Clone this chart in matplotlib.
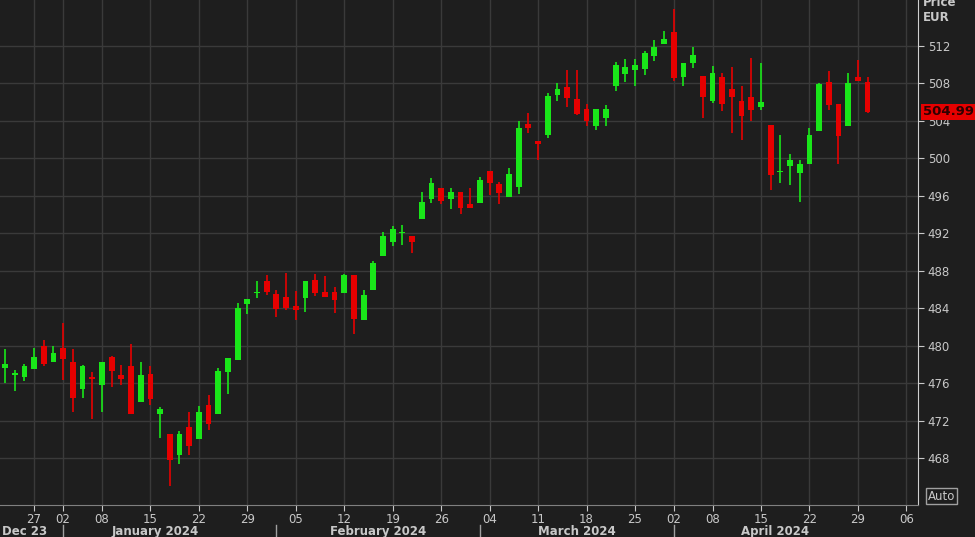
import matplotlib
matplotlib.use("Agg")
import matplotlib.pyplot as plt
import numpy as np

dates = ["Dec21","Dec22","Dec26","Dec27","Dec28","Dec29",
 "Jan02","Jan03","Jan04","Jan05","Jan08","Jan09","Jan10","Jan11","Jan12","Jan15","Jan16","Jan17","Jan18","Jan19",
 "Jan22","Jan23","Jan24","Jan25","Jan26","Jan29","Jan30","Jan31",
 "Feb01","Feb02","Feb05","Feb06","Feb07","Feb08","Feb09","Feb12","Feb13","Feb14","Feb15","Feb16","Feb19","Feb20",
 "Feb21","Feb22","Feb23","Feb26","Feb27","Feb28","Feb29",
 "Mar01","Mar04","Mar05","Mar06","Mar07","Mar08","Mar11","Mar12","Mar13","Mar14","Mar15","Mar18","Mar19","Mar20",
 "Mar21","Mar22","Mar25","Mar26","Mar27","Mar28",
 "Apr02","Apr03","Apr04","Apr05","Apr08","Apr09","Apr10","Apr11","Apr12","Apr15","Apr16","Apr17","Apr18","Apr19",
 "Apr22","Apr23","Apr24","Apr25","Apr26","Apr29","Apr30"]
opens = [477.6,476.9,476.7,477.5,480.0,478.3,
 479.8,478.3,475.4,476.7,475.8,478.8,476.9,477.8,474.0,477.0,472.7,470.6,468.3,471.3,
 470.0,473.7,472.7,477.2,478.5,484.5,485.6,486.9,
 485.5,485.2,484.2,485.1,487.0,485.7,485.7,485.6,487.5,482.7,485.9,489.6,491.1,492.0,
 491.7,493.5,495.7,496.8,495.7,496.4,495.1,
 495.2,498.7,497.3,495.9,496.9,503.7,501.9,502.5,506.8,507.6,506.3,505.3,503.4,504.3,
 507.7,509.0,509.4,509.5,510.9,512.2,
 513.5,508.7,510.2,508.8,506.1,508.7,507.4,506.1,506.5,505.5,503.6,498.5,499.2,498.4,
 499.4,502.9,508.1,505.8,503.5,508.7,508.1]
highs = [479.6,477.4,478.1,479.8,480.6,480.0,
 482.4,479.6,477.9,477.2,478.3,478.9,477.9,480.2,478.3,477.8,473.5,470.6,470.9,472.9,
 473.6,474.7,477.6,478.7,484.6,485.0,486.9,487.5,
 486.0,487.8,485.8,486.9,487.7,487.4,486.3,487.7,487.5,486.0,489.0,492.1,492.8,492.9,
 491.7,496.4,497.9,496.8,496.8,496.4,496.8,
 498.0,498.7,497.5,499.0,504.0,504.8,501.9,507.0,508.0,509.4,509.4,505.8,505.3,505.7,
 510.3,510.6,510.6,511.5,512.6,513.6,
 515.9,510.2,511.9,508.8,509.9,509.1,509.7,507.7,510.7,510.2,503.6,502.5,500.5,499.8,
 503.2,508.0,509.3,505.8,509.1,510.5,508.7]
lows = [476.0,475.2,476.2,477.5,477.8,478.3,
 476.3,472.9,474.4,472.2,472.9,475.6,475.8,472.7,474.0,473.7,470.2,465.0,467.4,468.3,
 470.0,471.0,472.7,474.9,478.5,483.4,485.1,485.4,
 483.1,483.8,482.7,483.6,485.3,485.2,483.5,485.6,481.3,482.7,485.9,489.6,490.6,490.8,
 489.9,493.5,495.2,495.1,494.6,494.1,494.7,
 495.2,496.1,495.1,495.9,496.2,502.7,499.8,502.2,506.1,505.5,504.6,503.4,503.0,503.4,
 507.2,508.2,507.7,508.9,510.4,512.2,
 508.3,507.7,509.6,504.3,505.9,505.0,502.7,502.0,504.0,505.2,496.6,497.4,497.2,495.3,
 499.4,502.9,505.2,499.4,503.5,508.3,504.8]
closes = [478.0,477.0,477.8,478.8,478.0,479.2,
 478.6,474.4,477.8,476.4,478.3,477.3,476.4,472.7,476.9,474.3,473.2,467.8,470.6,469.3,
 472.9,471.6,477.3,478.7,484.0,485.0,485.7,485.7,
 483.9,484.0,483.8,486.9,485.6,485.2,484.9,487.5,482.8,485.4,488.8,491.7,492.5,492.1,
 491.1,495.3,497.4,495.4,496.4,494.7,494.7,
 497.7,497.4,496.3,498.3,503.2,503.2,501.5,506.7,507.4,506.4,504.7,504.0,505.3,505.3,
 510.0,509.8,510.0,511.2,511.9,512.7,
 508.6,510.2,511.0,506.6,509.1,505.8,506.6,504.5,505.2,506.0,498.2,498.7,499.8,499.4,
 502.5,507.9,505.7,502.4,508.0,508.3,504.99]

tick_pos = [3,6,10,15,20,25,30,35,40,45,50,55,60,65,69,73,78,83,88,93]
tick_labels = ["27","02","08","15","22","29","05","12","19","26","04","11","18","25","02","08","15","22","29","06"]
month_labels = ["Dec 23","January 2024","February 2024","March 2024","April 2024"]
month_centers = [2.0,15.5,38.5,59.0,79.5]
month_bounds = [6,28,49,69]
yticks = list(range(468,513,4))
last_price = closes[-1]

BG = "#1e1e1e"
GREEN = "#19e619"
RED = "#e60000"
TXT = "#c8c8c8"
GRID = "#3a3a3a"

fig = plt.figure(figsize=(9.75,5.37), dpi=100, facecolor=BG)
ax = fig.add_axes([0.0, 0.0596, 0.9415, 0.9404], facecolor=BG)

x = np.arange(len(opens))
o = np.array(opens); h = np.array(highs); l = np.array(lows); c = np.array(closes)
up = c >= o
cols = np.where(up, GREEN, RED)
ax.vlines(x, l, h, colors=cols, linewidth=1.2, zorder=3)
bot = np.minimum(o, c)
ht = np.maximum(np.abs(c - o), 0.18)
ax.bar(x, ht, bottom=bot, width=0.6, color=cols, edgecolor=cols, linewidth=0, zorder=4)

ax.set_xlim(-0.52, 94.2)
ax.set_ylim(463.0, 516.9)
ax.set_xticks(tick_pos)
ax.set_xticklabels(tick_labels)
ax.set_yticks(yticks)
ax.yaxis.tick_right()
ax.grid(True, color=GRID, linewidth=1)
ax.set_axisbelow(True)
for s in ["top","left"]:
    ax.spines[s].set_visible(False)
ax.spines["right"].set_color("#d0d0d0")
ax.spines["bottom"].set_color("#808080")
ax.tick_params(axis="y", colors=TXT, labelsize=8.5, length=4, pad=3)
ax.tick_params(axis="x", colors=TXT, labelsize=8.5, length=4, pad=2)

for lbl, cx in zip(month_labels, month_centers):
    ax.text(cx, -0.052, lbl, transform=ax.get_xaxis_transform(), ha="center", va="center",
            color=TXT, fontsize=8.5, fontweight="bold", clip_on=False)
for b in month_bounds:
    ax.plot([b, b], [-0.04, -0.07], transform=ax.get_xaxis_transform(), color="#a0a0a0",
            linewidth=1, clip_on=False)

ax.text(1.005, last_price, f"{last_price:.2f}", transform=ax.get_yaxis_transform(), ha="left", va="center",
        fontsize=9.5, fontweight="bold", color="#300000",
        bbox=dict(boxstyle="square,pad=0.12", facecolor=RED, edgecolor="none"), clip_on=False, zorder=10)
fig.text(0.947, 0.995, "Price", color=TXT, fontsize=8.5, fontweight="bold", ha="left", va="center")
fig.text(0.947, 0.967, "EUR", color=TXT, fontsize=8.5, fontweight="bold", ha="left", va="center")
fig.text(0.9515, 0.076, "Auto", color=TXT, fontsize=8.5, ha="left", va="center",
         bbox=dict(boxstyle="square,pad=0.15", facecolor=BG, edgecolor="#a0a0a0"))

fig.savefig("out.png", dpi=100, facecolor=BG)
